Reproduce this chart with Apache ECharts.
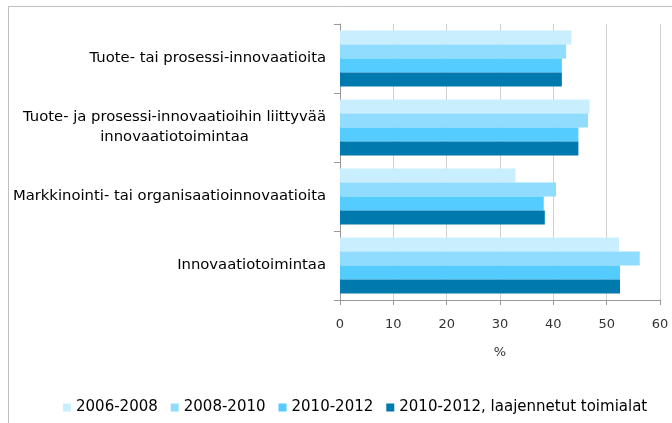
<!DOCTYPE html>
<html>
<head>
<meta charset="utf-8">
<script src="https://cdn.jsdelivr.net/npm/echarts@6/dist/echarts.min.js"></script>
<style>
html, body { margin: 0; padding: 0; background: #fff; }
#chart { width: 672px; height: 423px; }
</style>
</head>
<body>
<div id="chart"></div>
<script>
var categories = [
    'Tuote- tai prosessi-innovaatioita',
    'Tuote- ja prosessi-innovaatioihin liittyvää\ninnovaatiotoimintaa',
    'Markkinointi- tai organisaatioinnovaatioita',
    'Innovaatiotoimintaa'
];
var seriesNames = ['2006-2008', '2008-2010', '2010-2012', '2010-2012, laajennetut toimialat'];
var v2006_2008 = [43.4, 46.8, 32.9, 52.3];
var v2008_2010 = [42.4, 46.5, 40.5, 56.2];
var v2010_2012 = [41.6, 44.7, 38.2, 52.5];
var v2010_2012laaj = [41.6, 44.7, 38.4, 52.5];
var colors = ['#c9eefe', '#8fdcff', '#55ccff', '#0079ae'];

var myChart = echarts.init(document.getElementById('chart'));

var values = [v2006_2008, v2008_2010, v2010_2012, v2010_2012laaj];
var series = [];
for (var i = 0; i < seriesNames.length; i++) {
    series.push({
        name: seriesNames[i],
        type: 'bar',
        barGap: '0%',
        barCategoryGap: '19%',
        itemStyle: { color: colors[i] },
        data: values[i]
    });
}

var option = {
    animation: false,
    color: colors,
    // kehys
    graphic: [{
        type: 'rect',
        left: 6, top: 4,
        shape: { width: 700, height: 440 },
        style: { fill: 'none', stroke: '#bfbfbf', lineWidth: 1 },
        silent: true
    }],
    legend: {
        data: seriesNames,
        top: 395,
        left: 58,
        itemWidth: 8,
        itemHeight: 8,
        itemGap: 13,
        icon: 'rect',
        textStyle: { fontFamily: 'DejaVu Sans', fontSize: 15, color: '#000' }
    },
    grid: {
        left: 340,
        right: 12,
        top: 24,
        bottom: 123
    },
    xAxis: {
        type: 'value',
        min: 0,
        max: 60,
        interval: 10,
        name: '%',
        nameLocation: 'middle',
        nameGap: 46,
        nameTextStyle: { fontFamily: 'DejaVu Sans', fontSize: 13, color: '#333' },
        axisLine: { show: true, lineStyle: { color: '#999' } },
        axisTick: { show: true, length: 5, lineStyle: { color: '#999' } },
        axisLabel: { fontFamily: 'DejaVu Sans', fontSize: 13, color: '#333', margin: 18 },
        splitLine: { show: true, lineStyle: { color: '#d0d0d0' } }
    },
    yAxis: {
        type: 'category',
        inverse: true,
        data: categories,
        axisLine: { show: true, lineStyle: { color: '#999' } },
        axisTick: { show: true, length: 6, lineStyle: { color: '#999' } },
        axisLabel: {
            margin: 14,
            align: 'right',
            // rivit keskitetään lohkon sisällä
            formatter: function (v) {
                return v.split('\n').map(function (s) { return '{c|' + s + '}'; }).join('\n');
            },
            rich: {
                c: {
                    align: 'center',
                    fontFamily: 'DejaVu Sans', fontSize: 14.8, color: '#000', lineHeight: 20
                }
            }
        },
        splitLine: { show: false }
    },
    series: series
};

myChart.setOption(option);
</script>
</body>
</html>
